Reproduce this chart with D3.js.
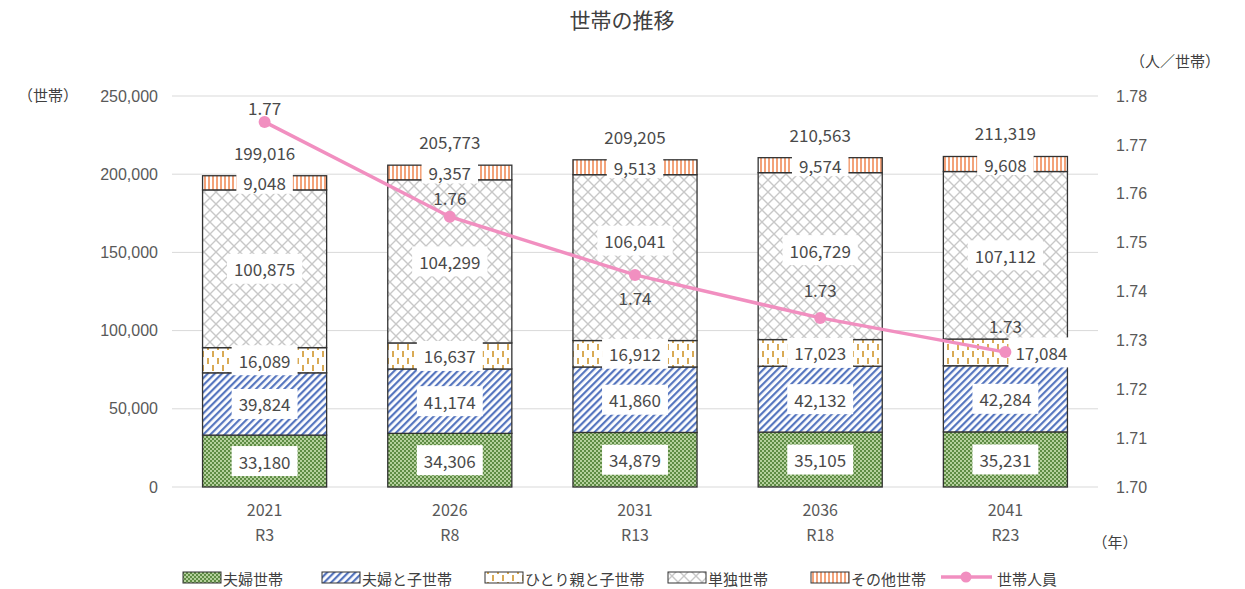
<!DOCTYPE html>
<html>
<head>
	<meta charset="utf-8">
	<script src="https://cdn.jsdelivr.net/npm/d3@7"></script>
	<style>
		body { margin: 0; background: #fff; }
		svg { font-family: "Noto Sans CJK JP", "Noto Sans", sans-serif; }
		.tick text { fill: #595959; font-size: 16px; }
		.lbl { fill: #4a4a4a; font-size: 17px; }
	</style>
</head>
<body>
	<svg></svg>
	<script>
		var years = ["2021", "2026", "2031", "2036", "2041"];
		var reiwa = ["R3", "R8", "R13", "R18", "R23"];
		var couple = [33180, 34306, 34879, 35105, 35231];
		var coupleChild = [39824, 41174, 41860, 42132, 42284];
		var singleParent = [16089, 16637, 16912, 17023, 17084];
		var single = [100875, 104299, 106041, 106729, 107112];
		var other = [9048, 9357, 9513, 9574, 9608];
		var perHousehold = [1.7747, 1.7553, 1.7434, 1.7346, 1.7276];
		var seriesNames = ["夫婦世帯", "夫婦と子世帯", "ひとり親と子世帯", "単独世帯", "その他世帯"];
		var leftTicks = [0, 50000, 100000, 150000, 200000, 250000];
		var rightTicks = [1.70, 1.71, 1.72, 1.73, 1.74, 1.75, 1.76, 1.77, 1.78];

		var width = 1245, height = 589;
		var plot = { left: 172, right: 1098, top: 96, bottom: 487 };
		// label tweaks (pixels)
		var lineLabelDy = [-14, -19, 23, -28, -27];
		var segLabelDx = [[0, 0, 0, 0, 0], [0, 0, 0, 0, 0], [0, 0, 0, 0, 36], [0, 0, 0, 0, 0], [0, 0, 0, 0, 0]];
		var segLabelDy = [[0, 0, 0, 0, 0], [0, 0, 0, 0, 0], [0, 0, 0, 0, 0], [0, 0, -17, -6, 0], [0, 0, 0, 0, 0]];

		var svg = d3.select("svg").attr("width", width).attr("height", height);
		var defs = svg.append("defs");

		// patterns
		var p0 = defs.append("pattern").attr("id", "pat0").attr("patternUnits", "userSpaceOnUse")
			.attr("width", 4).attr("height", 4);
		p0.append("rect").attr("width", 4).attr("height", 4).attr("fill", "#5e8c44");
		p0.append("rect").attr("x", 0).attr("y", 0).attr("width", 2).attr("height", 2).attr("fill", "#b4d09c");
		p0.append("rect").attr("x", 2).attr("y", 2).attr("width", 2).attr("height", 2).attr("fill", "#b4d09c");

		var p1 = defs.append("pattern").attr("id", "pat1").attr("patternUnits", "userSpaceOnUse")
			.attr("width", 5).attr("height", 5).attr("patternTransform", "rotate(45)");
		p1.append("rect").attr("width", 5).attr("height", 5).attr("fill", "#fff");
		p1.append("rect").attr("width", 2.2).attr("height", 5).attr("fill", "#5676bf");

		var p2 = defs.append("pattern").attr("id", "pat2").attr("patternUnits", "userSpaceOnUse")
			.attr("width", 10).attr("height", 14);
		p2.append("rect").attr("width", 10).attr("height", 14).attr("fill", "#fff");
		p2.append("rect").attr("x", 2).attr("y", 1).attr("width", 2).attr("height", 6).attr("fill", "#d9aa55");
		p2.append("rect").attr("x", 7).attr("y", 8).attr("width", 2).attr("height", 6).attr("fill", "#d9aa55");

		var p3 = defs.append("pattern").attr("id", "pat3").attr("patternUnits", "userSpaceOnUse")
			.attr("width", 12).attr("height", 12);
		p3.append("rect").attr("width", 12).attr("height", 12).attr("fill", "#fff");
		p3.append("path").attr("d", "M0,0L12,12M12,0L0,12").attr("stroke", "#c8c8c8").attr("stroke-width", 1.4);

		var p4 = defs.append("pattern").attr("id", "pat4").attr("patternUnits", "userSpaceOnUse")
			.attr("width", 4).attr("height", 4);
		p4.append("rect").attr("width", 4).attr("height", 4).attr("fill", "#fff");
		p4.append("rect").attr("width", 2).attr("height", 4).attr("fill", "#f3a37a");

		var x = d3.scaleBand().domain(years).range([plot.left, plot.right]).paddingInner(0.33).paddingOuter(0.165);
		var y = d3.scaleLinear().domain([0, 250000]).range([plot.bottom, plot.top]);
		var y2 = d3.scaleLinear().domain([1.70, 1.78]).range([plot.bottom, plot.top]);

		// title
		svg.append("text").attr("x", 622).attr("y", 28).attr("text-anchor", "middle")
			.attr("font-size", 21).attr("fill", "#404040").text("世帯の推移");

		// gridlines
		svg.append("g").selectAll("line").data(leftTicks).enter().append("line")
			.attr("x1", plot.left).attr("x2", plot.right)
			.attr("y1", d => y(d)).attr("y2", d => y(d))
			.attr("stroke", "#d9d9d9").attr("stroke-width", 1);

		// left axis
		svg.append("g").attr("transform", "translate(" + (plot.left - 6) + ",0)")
			.call(d3.axisLeft(y).tickValues(leftTicks).tickSize(0).tickPadding(8).tickFormat(d3.format(",")))
			.call(g => g.select(".domain").remove());
		svg.append("text").attr("x", 48).attr("y", 101).attr("text-anchor", "middle")
			.attr("font-size", 15).attr("fill", "#404040").text("（世帯）");

		// right axis
		svg.append("g").attr("transform", "translate(" + (plot.right + 10) + ",0)")
			.call(d3.axisRight(y2).tickValues(rightTicks).tickSize(0).tickPadding(8).tickFormat(d3.format(".2f")))
			.call(g => g.select(".domain").remove());
		svg.append("text").attr("x", 1175).attr("y", 67).attr("text-anchor", "middle")
			.attr("font-size", 15).attr("fill", "#404040").text("（人／世帯）");

		// x axis labels
		var xg = svg.append("g");
		xg.selectAll("text.yr").data(years).enter().append("text").attr("class", "yr")
			.attr("x", d => x(d) + x.bandwidth() / 2).attr("y", 516).attr("text-anchor", "middle")
			.attr("font-size", 16).attr("fill", "#595959").text(d => d);
		xg.selectAll("text.rw").data(reiwa).enter().append("text").attr("class", "rw")
			.attr("x", (d, i) => x(years[i]) + x.bandwidth() / 2).attr("y", 541).attr("text-anchor", "middle")
			.attr("font-size", 16).attr("fill", "#595959").text(d => d);
		svg.append("text").attr("x", 1115).attr("y", 548).attr("text-anchor", "middle")
			.attr("font-size", 15).attr("fill", "#404040").text("（年）");

		// stacked data
		var seriesVals = [couple, coupleChild, singleParent, single, other];
		var table = years.map((yr, i) => {
			var row = { year: yr };
			seriesVals.forEach((s, k) => row["s" + k] = s[i]);
			return row;
		});
		var keys = seriesVals.map((s, k) => "s" + k);
		var stacked = d3.stack().keys(keys)(table);

		var layers = svg.append("g").selectAll("g").data(stacked).enter().append("g")
			.attr("fill", (d, k) => "url(#pat" + k + ")");
		layers.selectAll("rect").data(d => d).enter().append("rect")
			.attr("x", d => x(d.data.year))
			.attr("y", d => y(d[1]))
			.attr("width", x.bandwidth())
			.attr("height", d => y(d[0]) - y(d[1]))
			.attr("stroke", "#333").attr("stroke-width", 1.3);

		// segment labels
		var lblG = svg.append("g");
		stacked.forEach((layer, k) => {
			layer.forEach((d, i) => {
				var cx = x(d.data.year) + x.bandwidth() / 2 + segLabelDx[k][i];
				var cy = (y(d[0]) + y(d[1])) / 2 + segLabelDy[k][i];
				var t = lblG.append("text").attr("class", "lbl").attr("x", cx).attr("y", cy)
					.attr("text-anchor", "middle").attr("dominant-baseline", "central")
					.text(d3.format(",")(seriesVals[k][i]));
				var bb = t.node().getBBox();
				var bh = k === 4 ? 22 : 30;
				lblG.insert("rect", "text").attr("x", bb.x - 7).attr("y", cy - bh / 2)
					.attr("width", bb.width + 14).attr("height", bh).attr("fill", "#fff");
			});
		});

		// totals
		var totals = years.map((yr, i) => d3.sum(seriesVals, s => s[i]));
		svg.append("g").selectAll("text").data(totals).enter().append("text").attr("class", "lbl")
			.attr("x", (d, i) => x(years[i]) + x.bandwidth() / 2)
			.attr("y", d => y(d) - 16).attr("text-anchor", "middle")
			.text(d => d3.format(",")(d));

		// line
		var cxs = years.map(d => x(d) + x.bandwidth() / 2);
		var line = d3.line().x((d, i) => cxs[i]).y(d => y2(d));
		svg.append("path").datum(perHousehold).attr("d", line)
			.attr("fill", "none").attr("stroke", "#f18fc0").attr("stroke-width", 3.5);
		svg.append("g").selectAll("circle").data(perHousehold).enter().append("circle")
			.attr("cx", (d, i) => cxs[i]).attr("cy", d => y2(d)).attr("r", 6).attr("fill", "#f18fc0");
		svg.append("g").selectAll("text").data(perHousehold).enter().append("text").attr("class", "lbl")
			.attr("x", (d, i) => cxs[i]).attr("y", (d, i) => y2(d) + lineLabelDy[i])
			.attr("text-anchor", "middle").attr("dominant-baseline", "central")
			.text(d => d3.format(".2f")(d));

		// legend
		var legX = [183, 322, 485, 668, 811];
		var leg = svg.append("g");
		seriesNames.forEach((n, k) => {
			leg.append("rect").attr("x", legX[k]).attr("y", 572).attr("width", 38).attr("height", 11)
				.attr("fill", "url(#pat" + k + ")").attr("stroke", "#333").attr("stroke-width", 1);
			leg.append("text").attr("x", legX[k] + 40).attr("y", 578).attr("dominant-baseline", "central")
				.attr("font-size", 15).attr("fill", "#404040").text(n);
		});
		leg.append("line").attr("x1", 941).attr("x2", 992).attr("y1", 577).attr("y2", 577)
			.attr("stroke", "#f18fc0").attr("stroke-width", 3.5);
		leg.append("circle").attr("cx", 966).attr("cy", 577).attr("r", 5.5).attr("fill", "#f18fc0");
		leg.append("text").attr("x", 997).attr("y", 578).attr("dominant-baseline", "central")
			.attr("font-size", 15).attr("fill", "#404040").text("世帯人員");
	</script>
</body>
</html>
